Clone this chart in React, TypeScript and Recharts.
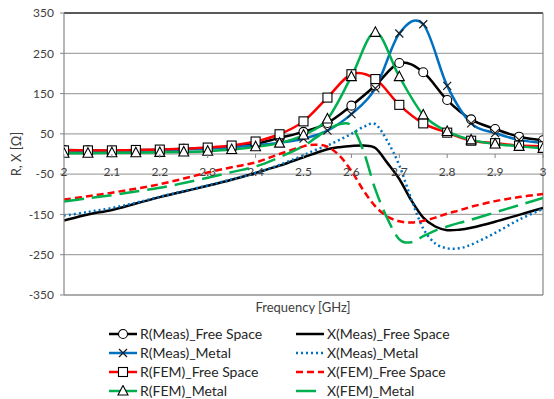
import { LineChart, Line, XAxis, YAxis, CartesianGrid, ReferenceLine } from 'recharts'

// frequency grid of the R curves (markers every 0.05 GHz)
const fR = [2, 2.05, 2.1, 2.15, 2.2, 2.25, 2.3, 2.35, 2.4, 2.45, 2.5, 2.55, 2.6, 2.65, 2.7, 2.75, 2.8, 2.85, 2.9, 2.95, 3]
const rMeasFree = [10, 9, 8, 10, 10, 13, 15, 19, 25, 40, 55, 77, 120, 170, 226, 203, 134, 86, 62, 43, 34]
const rMeasMetal = [9, 8, 7, 8, 9, 11, 13, 17, 22, 28, 38, 58, 99, 163, 299, 322, 169, 76, 52, 35, 27]
const rFemFree = [9, 9, 9, 10, 11, 13, 16, 21, 31, 49, 81, 140, 198, 186, 122, 76, 53, 33, 27, 21, 19]
const rFemMetal = [2, 2, 3, 3, 4, 5, 7, 11, 18, 27, 47, 87, 192, 302, 192, 97, 56, 35, 25, 19, 14]

// frequency grid of the X curves (no markers)
const fX = [2, 2.05, 2.1, 2.15, 2.2, 2.25, 2.3, 2.35, 2.4, 2.45, 2.5, 2.525, 2.55, 2.575, 2.6, 2.625, 2.65, 2.675, 2.7, 2.725, 2.75, 2.775, 2.8, 2.825, 2.85, 2.9, 2.95, 3]
const xMeasFree = [-165, -150, -139, -123, -107, -93, -79, -64, -47, -29, -8, 2, 12, 17, 20, 21, 15, -22, -62, -115, -158, -180, -189, -188, -183, -168, -151, -134]
const xMeasMetal = [-153, -144, -134, -121, -106, -92, -78, -63, -47, -27, -3, 10, 21, 35, 50, 67, 74, 32, -28, -112, -185, -222, -234, -234, -225, -196, -163, -136]
const xFemFree = [-113, -105, -96, -86, -75, -61, -46, -33, -21, 0, 19, 23, 18, -4, -42, -90, -130, -155, -167, -170, -166, -158, -148, -140, -131, -117, -107, -99]
const xFemMetal = [-118, -110, -102, -93, -84, -72, -59, -45, -31, -8, 20, 40, 60, 74, 70, 8, -88, -160, -212, -219, -204, -190, -180, -171, -163, -145, -127, -109]

const xTicks = [2, 2.1, 2.2, 2.3, 2.4, 2.5, 2.6, 2.7, 2.8, 2.9, 3]
const yTicks = [-350, -250, -150, -50, 50, 150, 250, 350]

const W = 554
const H = 399
const PLOT_TOP = 13
const PLOT_BOTTOM = 295
const ZERO_Y = PLOT_TOP + (PLOT_BOTTOM - PLOT_TOP) / 2
const FONT = 'Lato, "Liberation Sans", sans-serif'

type MarkerKind = 'circle' | 'cross' | 'square' | 'triangle' | 'none'

interface Series {
  name: string
  color: string
  dash?: string
  marker: MarkerKind
  f: number[]
  v: number[]
}

const series: Series[] = [
  { name: 'R(Meas)_Free Space', color: '#000000', marker: 'circle', f: fR, v: rMeasFree },
  { name: 'X(Meas)_Free Space', color: '#000000', marker: 'none', f: fX, v: xMeasFree },
  { name: 'R(Meas)_Metal', color: '#0070C0', marker: 'cross', f: fR, v: rMeasMetal },
  { name: 'X(Meas)_Metal', color: '#0070C0', dash: '2 3', marker: 'none', f: fX, v: xMeasMetal },
  { name: 'R(FEM)_Free Space', color: '#FF0000', marker: 'square', f: fR, v: rFemFree },
  { name: 'X(FEM)_Free Space', color: '#FF0000', dash: '7 4', marker: 'none', f: fX, v: xFemFree },
  { name: 'R(FEM)_Metal', color: '#00B050', marker: 'triangle', f: fR, v: rFemMetal },
  { name: 'X(FEM)_Metal', color: '#00B050', dash: '20 8', marker: 'none', f: fX, v: xFemMetal },
]

// Excel-like smoothed line (uniform Catmull-Rom through the points)
const smooth = (context: any) => {
  let pts: number[][] = []
  return {
    areaStart() {},
    areaEnd() {},
    lineStart() {
      pts = []
    },
    point(x: number, y: number) {
      pts.push([+x, +y])
    },
    lineEnd() {
      const n = pts.length
      if (!n) return
      context.moveTo(pts[0][0], pts[0][1])
      for (let i = 0; i < n - 1; i++) {
        const p0 = pts[i === 0 ? 0 : i - 1]
        const p1 = pts[i]
        const p2 = pts[i + 1]
        const p3 = pts[i + 2 < n ? i + 2 : n - 1]
        context.bezierCurveTo(
          p1[0] + (p2[0] - p0[0]) / 6,
          p1[1] + (p2[1] - p0[1]) / 6,
          p2[0] - (p3[0] - p1[0]) / 6,
          p2[1] - (p3[1] - p1[1]) / 6,
          p2[0],
          p2[1],
        )
      }
    },
  }
}

function Marker({ kind, cx, cy }: { kind: MarkerKind; cx: number; cy: number }) {
  const s = { fill: '#ffffff', stroke: '#000000', strokeWidth: 1.1 }
  if (kind === 'circle') return <circle cx={cx} cy={cy} r={4.5} {...s} />
  if (kind === 'square') return <rect x={cx - 4.5} y={cy - 4.5} width={9} height={9} {...s} />
  if (kind === 'triangle')
    return <path d={`M${cx},${cy - 5.5} L${cx + 5},${cy + 4} L${cx - 5},${cy + 4} Z`} {...s} />
  if (kind === 'cross')
    return (
      <path
        d={`M${cx - 4},${cy - 4} L${cx + 4},${cy + 4} M${cx - 4},${cy + 4} L${cx + 4},${cy - 4}`}
        stroke="#1a1a1a"
        strokeWidth={1.2}
        fill="none"
      />
    )
  return null
}

const XTick = (props: any) => {
  const { x, payload } = props
  return (
    <g>
      <line x1={x} x2={x} y1={ZERO_Y} y2={ZERO_Y + 4} stroke="#868686" />
      <text x={x} y={ZERO_Y + 22} textAnchor="middle" fontSize={12} fill="#404040" fontFamily={FONT}>
        {payload.value}
      </text>
    </g>
  )
}

function LegendIcon({ s }: { s: Series }) {
  return (
    <svg width={30} height={12} style={{ display: 'block' }}>
      <line x1={1} x2={29} y1={6} y2={6} stroke={s.color} strokeWidth={2.5} strokeDasharray={s.dash} />
      <Marker kind={s.marker} cx={15} cy={6} />
    </svg>
  )
}

export default function App() {
  return (
    <div style={{ position: 'absolute', left: 0, top: 0, width: W, height: H, background: '#fff', fontFamily: FONT }}>
      <LineChart width={W} height={H} margin={{ top: PLOT_TOP, right: 11, bottom: 0, left: 0 }}>
        <CartesianGrid vertical={false} stroke="#a6a6a6" strokeWidth={1.2} />
        <XAxis
          type="number"
          dataKey="f"
          domain={[2, 3]}
          ticks={xTicks}
          allowDataOverflow
          axisLine={false}
          tickLine={false}
          tick={XTick}
          height={H - PLOT_BOTTOM}
        />
        <YAxis
          type="number"
          domain={[-350, 350]}
          ticks={yTicks}
          width={64}
          axisLine={{ stroke: '#868686', strokeWidth: 1.2 }}
          tickLine={{ stroke: '#868686' }}
          tickSize={4}
          tickMargin={6}
          tick={{ fill: '#404040', fontSize: 12, fontFamily: FONT }}
        />
        <ReferenceLine y={0} stroke="#868686" strokeWidth={1.2} />
        <ReferenceLine y={350} stroke="#595959" strokeWidth={2} />
        <ReferenceLine y={-350} stroke="#868686" strokeWidth={1.2} />
        <ReferenceLine x={3} stroke="#868686" strokeWidth={1.2} />
        {series.map((s) => (
          <Line
            key={s.name}
            data={s.f.map((f, i) => ({ f, v: s.v[i] }))}
            dataKey="v"
            name={s.name}
            type={smooth as any}
            stroke={s.color}
            strokeWidth={2.5}
            strokeDasharray={s.dash}
            dot={
              s.marker === 'none'
                ? false
                : (p: any) => (
                    <g key={`${s.name}-${p.index}`}>
                      <Marker kind={s.marker} cx={p.cx} cy={p.cy} />
                    </g>
                  )
            }
            activeDot={false}
            isAnimationActive={false}
          />
        ))}
      </LineChart>
      <svg width={W} height={H} style={{ position: 'absolute', left: 0, top: 0, pointerEvents: 'none' }}>
        <text x={303} y={312} textAnchor="middle" fontSize={13} fill="#404040" fontFamily={FONT}>
          Frequency [GHz]
        </text>
        <text
          x={21}
          y={ZERO_Y}
          textAnchor="middle"
          fontSize={13}
          fill="#404040"
          fontFamily={FONT}
          transform={`rotate(-90, 21, ${ZERO_Y})`}
        >
          R, X [Ω]
        </text>
      </svg>
      <div
        style={{
          position: 'absolute',
          left: 108,
          top: 326,
          display: 'grid',
          gridTemplateColumns: '187px 200px',
          rowGap: 3,
          fontSize: 14,
          lineHeight: '16px',
          color: '#262626',
        }}
      >
        {series.map((s) => (
          <div key={s.name} style={{ display: 'flex', alignItems: 'center', gap: 2, whiteSpace: 'nowrap' }}>
            <LegendIcon s={s} />
            <span>{s.name}</span>
          </div>
        ))}
      </div>
    </div>
  )
}
